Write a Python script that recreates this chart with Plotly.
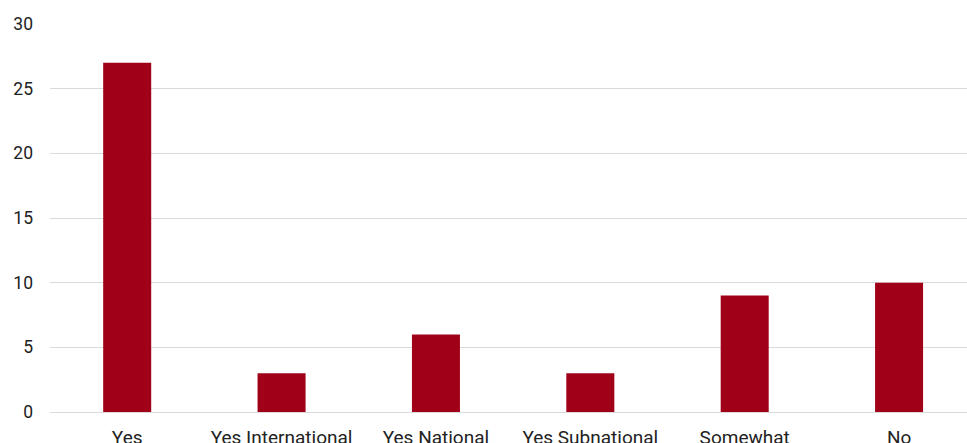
import plotly.graph_objects as go

categories = ["Yes", "Yes International", "Yes National", "Yes Subnational", "Somewhat", "No"]
values = [27, 3, 6, 3, 9, 10]
y_ticks = [0, 5, 10, 15, 20, 25, 30]

fig = go.Figure(go.Bar(x=categories, y=values, marker=dict(color="#A00018", line=dict(width=0))))

fig.update_layout(
    width=967, height=443,
    margin=dict(l=50, r=0, t=24, b=31),
    paper_bgcolor="white", plot_bgcolor="white",
    bargap=0.689,
    showlegend=False,
    font=dict(family="Roboto", size=16, color="#333333"),
)
fig.update_xaxes(
    range=[-0.5, 5.44], showgrid=False, zeroline=False, showline=False,
    ticks="outside", ticklen=8, tickcolor="rgba(0,0,0,0)",
    tickfont=dict(size=19, color="#222222"), automargin=False,
)
fig.update_yaxes(
    range=[0, 30], tickvals=y_ticks, showgrid=True, gridcolor="#DADADA", gridwidth=1,
    zeroline=True, zerolinecolor="#DADADA", zerolinewidth=1,
    ticklabelstandoff=16, automargin=False,
    tickfont=dict(size=17.5, color="#222222"),
)
fig.write_html("out.html")
